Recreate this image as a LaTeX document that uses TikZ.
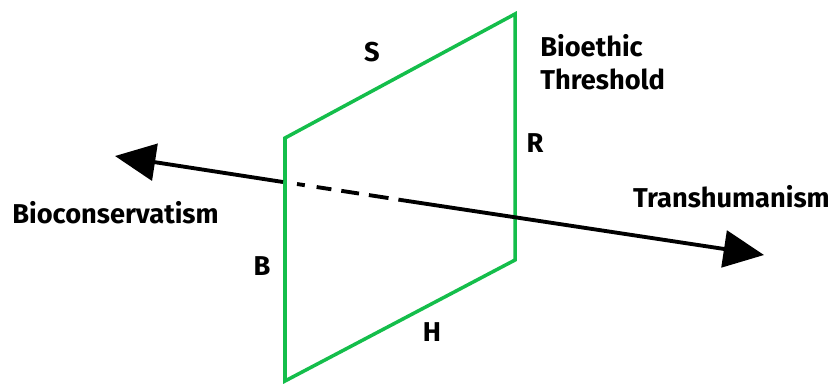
\documentclass[tikz,border=0pt]{standalone}
\usepackage{fontspec}
\setmainfont{Fira Sans}
\usepackage{tikz}
\usetikzlibrary{arrows.meta}
\definecolor{THGreen}{RGB}{20,190,75}

\begin{document}
\begin{tikzpicture}[x=0.02cm, y=-0.02cm,
            lbl/.style={font=\fontsize{15.5}{18.7}\selectfont\bfseries, inner sep=0pt, align=left},
            pln/.style={draw=THGreen, line width=2pt, line join=miter},
            axis/.style={line width=2.2pt, draw=black},
            tip/.style={-{Triangle[length=23pt, width=21pt]}}
          ]
          \useasboundingbox (0,0) rectangle (837,383);
          % threshold plane
          \coordinate (tl) at (285,138);
          \coordinate (tr) at (515,14);
          \coordinate (br) at (515,260);
          \coordinate (bl) at (285,381);
          \draw[pln] (tl) -- (tr) -- (br) -- (bl) -- cycle;
          % axis through the plane
          \coordinate (cons) at (115,156);
          \coordinate (trans) at (764,255);
          \coordinate (inL) at (283,182);
          \coordinate (dsh) at (297,184);
          \coordinate (inR) at (401,200);
          \draw[axis, tip] (inL) -- (cons);
          \draw[axis, dash pattern=on 4.5pt off 6.8pt on 8.5pt off 5.7pt on 10.2pt off 5.7pt on 11.3pt off 5.7pt]
                (dsh) -- (inR);
          \draw[axis, tip] (inR) -- (trans);
          % labels
          \node[lbl] (s) at (372,52) {S};
          \node[lbl, anchor=west] (bt) at (540,62) {Bioethic\\Threshold};
          \node[lbl] (r) at (535,143) {R};
          \node[lbl] (b) at (262,266) {B};
          \node[lbl] (h) at (432,332) {H};
          \node[lbl, anchor=east] (tl-text) at (830,197) {Transhumanism};
          \node[lbl, anchor=west] (bc-text) at (12,213) {Bioconservatism};
        \end{tikzpicture}
\end{document}
